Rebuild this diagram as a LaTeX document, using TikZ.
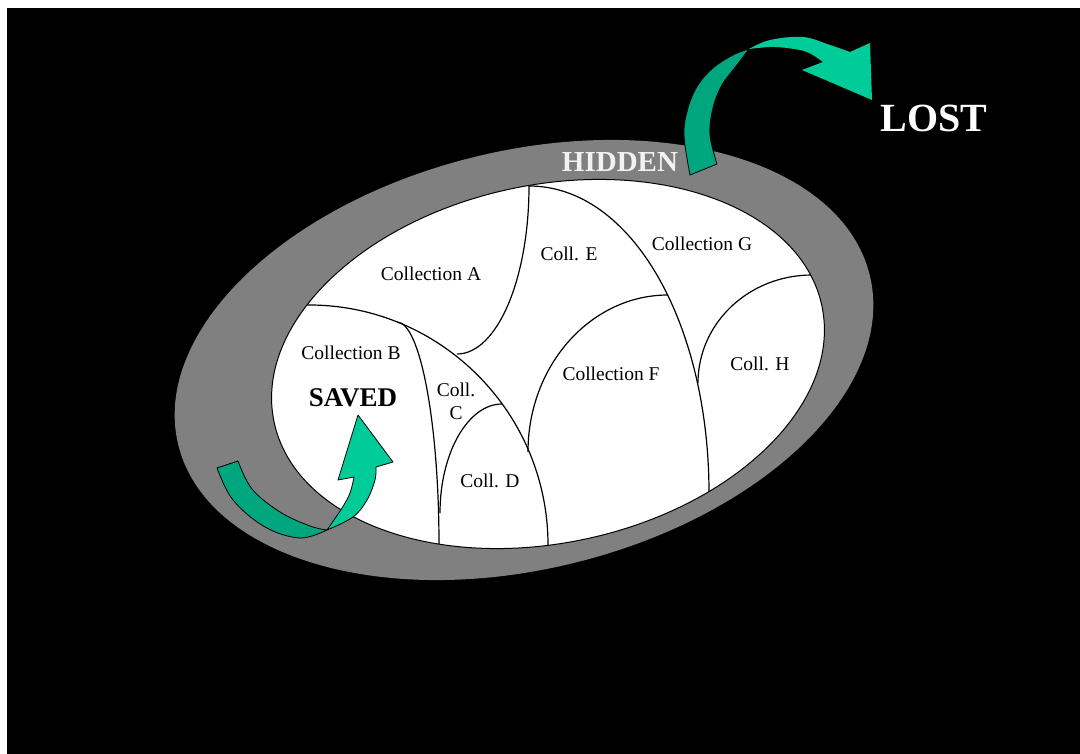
\documentclass[tikz,border=0pt]{standalone}
\usepackage{fontspec}
\setmainfont{Liberation Serif}
\definecolor{grayband}{RGB}{128,128,128}
\definecolor{tealL}{RGB}{0,204,153}
\definecolor{tealD}{RGB}{0,166,126}
\definecolor{hiddenw}{RGB}{242,242,242}
\begin{document}
\begin{tikzpicture}[x=1pt,y=-1pt,
  lbl/.style={font=\fontsize{19.5}{23}\selectfont, text=black, inner sep=0pt, align=center},
  bigb/.style={font=\fontsize{27}{29}\selectfont\bfseries, inner sep=0pt},
  divline/.style={draw=black, line width=1.2pt},
  bandD/.style={fill=tealD, draw=black, line width=0.8pt, line join=round},
  bandL/.style={fill=tealL, draw=black, line width=0.8pt, line join=round}]
\useasboundingbox (0,0) rectangle (1080,754);
\fill[white] (0,0) rectangle (1080,754);
\fill[black] (7,8) rectangle (1080,754);
% outer hidden ring
\fill[grayband, rotate around={13.8:(524,360)}] (524,360) ellipse [x radius=356, y radius=209];
% inner saved region
\begin{scope}
  \clip[rotate around={12:(548,364)}] (548,364) ellipse [x radius=280, y radius=179];
  \fill[white] (0,0) rectangle (1080,754);
  % A / E
  \draw[divline] (529,160) -- (529,186) .. controls (529,279) and (497,354) .. (457,354);
  % A-B / C-D long curve
  \draw[divline] (285,305) -- (309,305) .. controls (441,305) and (548,413) .. (548,545) -- (548,580);
  % B / C
  \draw[divline] (397,322) .. controls (420,322) and (439,422) .. (439,545) -- (439,580);
  % C / D
  \draw[divline] (502,404) .. controls (468,404) and (440,453) .. (440,513);
  % E / F
  \draw[divline] (668,295) .. controls (591,295) and (528,365) .. (528,452);
  % E-F / G-H long curve
  \draw[divline] (529,186) .. controls (632,186) and (709,324) .. (709,493) -- (709,540);
  % G / H
  \draw[divline] (835,275) -- (812,275) .. controls (749,275) and (698,323) .. (698,383);
\end{scope}
\draw[black, line width=1pt, rotate around={12:(548,364)}] (548,364) ellipse [x radius=280, y radius=179];
% labels
\node[lbl] (colA) at (431,274) {Collection A};
\node[lbl] (colE) at (569,254) {Coll. E};
\node[lbl] (colG) at (702,244) {Collection G};
\node[lbl] (colB) at (351,353) {Collection B};
\node[lbl] (colC) at (456,401) {Coll.\\C};
\node[lbl] (colD) at (490,481) {Coll. D};
\node[lbl] (colF) at (611,374) {Collection F};
\node[lbl] (colH) at (760,364) {Coll. H};
\node[bigb, text=black] (saved) at (353,398) {SAVED};
\node[bigb, text=hiddenw, font=\fontsize{29}{31}\selectfont\bfseries] (hidden) at (620,162) {HIDDEN};
\node[bigb, text=white, font=\fontsize{40}{42}\selectfont\bfseries] (lost) at (934,118) {LOST};
% top arrow (to LOST)
\filldraw[bandD] plot[smooth, tension=0.6] coordinates {(690,175) (684,135) (688,108) (698,85) (713,68) (733,55) (749,49)}
  -- plot[smooth, tension=0.6] coordinates {(749,49) (737,65) (722,85) (713,108) (710,135) (717,164)} -- cycle;
\filldraw[fill=tealL, draw=none] plot[smooth, tension=0.6] coordinates {(749,49) (770,40) (803,37) (830,45) (850,52)}
  -- (870,43) -- (872,100) -- (802,70) -- (823,62)
  -- plot[smooth, tension=0.6] coordinates {(823,62) (807,52) (787,48) (770,47) (749,49)} -- cycle;
% bottom arrow (to SAVED)
\filldraw[bandD] plot[smooth, tension=0.6] coordinates {(217,468) (233,500) (265,527) (300,538) (327,530)}
  -- plot[smooth, tension=0.6] coordinates {(327,530) (310,526) (280,512) (252,489) (238,461)} -- cycle;
\filldraw[bandL] plot[smooth, tension=0.6] coordinates {(327,530) (353,517) (367,500) (375,480) (376,467)}
  -- (393,462) -- (358,415) -- (338,480) -- (354,477)
  -- plot[smooth, tension=0.6] coordinates {(354,477) (350,493) (342,508) (327,530)} -- cycle;
\end{tikzpicture}
\end{document}
